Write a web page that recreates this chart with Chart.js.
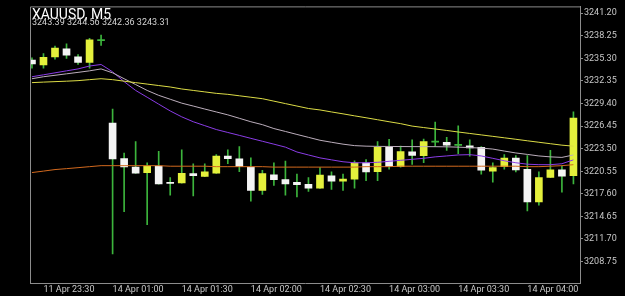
<!DOCTYPE html>
<html>
<head>
<meta charset="utf-8">
<script src="https://cdn.jsdelivr.net/npm/chart.js@4/dist/chart.umd.min.js"></script>
<style>
  html, body { margin: 0; padding: 0; background: #000; }
  #wrap { width: 625px; height: 296px; }
</style>
</head>
<body>
<div id="wrap"><canvas id="xauChart" width="625" height="296"></canvas></div>
<script>
// XAUUSD M5 candles
const times = [
  '11 Apr 23:25', '11 Apr 23:30', '11 Apr 23:35', '11 Apr 23:40', '11 Apr 23:45', '11 Apr 23:50', '11 Apr 23:55',
  '14 Apr 01:00', '14 Apr 01:05', '14 Apr 01:10', '14 Apr 01:15', '14 Apr 01:20', '14 Apr 01:25',
  '14 Apr 01:30', '14 Apr 01:35', '14 Apr 01:40', '14 Apr 01:45', '14 Apr 01:50', '14 Apr 01:55',
  '14 Apr 02:00', '14 Apr 02:05', '14 Apr 02:10', '14 Apr 02:15', '14 Apr 02:20', '14 Apr 02:25',
  '14 Apr 02:30', '14 Apr 02:35', '14 Apr 02:40', '14 Apr 02:45', '14 Apr 02:50', '14 Apr 02:55',
  '14 Apr 03:00', '14 Apr 03:05', '14 Apr 03:10', '14 Apr 03:15', '14 Apr 03:20', '14 Apr 03:25',
  '14 Apr 03:30', '14 Apr 03:35', '14 Apr 03:40', '14 Apr 03:45', '14 Apr 03:50', '14 Apr 03:55',
  '14 Apr 04:00', '14 Apr 04:05', '14 Apr 04:10', '14 Apr 04:15', '14 Apr 04:20'
];

const open = [
  3235.07, 3234.43, 3235.49, 3236.56, 3235.49, 3234.78, 3237.62,
  3226.86, 3222.21, 3221.11, 3220.38, 3221.24, 3219.11,
  3219.02, 3220.26, 3219.87, 3220.29, 3222.52, 3222.17,
  3221.11, 3218.05, 3220.09, 3219.45, 3219.11, 3218.85,
  3218.34, 3219.96, 3219.27, 3219.53, 3221.66, 3220.51,
  3223.70, 3221.15, 3223.10, 3222.59, 3224.36, 3224.34,
  3223.94, 3223.87, 3223.67, 3220.55, 3221.15, 3222.26,
  3220.81, 3216.55, 3219.74, 3220.73, 3219.96
];
const high = [
  3235.36, 3235.93, 3236.90, 3237.20, 3235.80, 3237.92, 3238.35,
  3228.68, 3222.94, 3224.43, 3221.66, 3223.15, 3219.74,
  3223.36, 3221.53, 3221.53, 3222.72, 3223.36, 3223.79,
  3222.30, 3220.68, 3221.66, 3221.88, 3220.17, 3219.74,
  3221.02, 3220.47, 3220.17, 3221.92, 3222.08, 3224.43,
  3224.73, 3223.83, 3224.64, 3224.76, 3226.99, 3224.98,
  3226.48, 3224.64, 3223.79, 3221.66, 3222.72, 3222.59,
  3222.59, 3220.47, 3223.28, 3221.24, 3228.30
];
const low = [
  3234.01, 3234.01, 3235.20, 3235.29, 3234.52, 3234.01, 3236.99,
  3209.75, 3215.28, 3220.26, 3213.58, 3218.85, 3217.41,
  3218.98, 3217.32, 3219.85, 3220.27, 3221.53, 3220.51,
  3216.64, 3217.54, 3218.69, 3217.41, 3217.19, 3217.92,
  3218.30, 3218.17, 3218.05, 3218.34, 3219.32, 3219.32,
  3220.81, 3221.10, 3221.44, 3221.66, 3223.79, 3223.28,
  3222.85, 3222.52, 3220.17, 3219.11, 3220.81, 3220.47,
  3215.36, 3216.13, 3219.70, 3217.83, 3218.89
];
const close = [
  3234.56, 3235.45, 3236.64, 3235.71, 3234.78, 3237.71, 3237.62,
  3222.17, 3221.11, 3220.29, 3221.24, 3218.89, 3218.95,
  3220.29, 3219.96, 3220.47, 3222.52, 3222.21, 3221.15,
  3218.05, 3220.26, 3219.45, 3218.89, 3218.81, 3218.34,
  3220.04, 3219.27, 3219.53, 3221.66, 3220.47, 3223.67,
  3221.15, 3223.13, 3222.62, 3224.43, 3224.36, 3223.96,
  3223.94, 3223.61, 3220.68, 3221.02, 3222.26, 3220.73,
  3216.55, 3219.74, 3220.73, 3219.91, 3227.50
];

// moving averages
const maPurple = [
  3232.90, 3233.15, 3233.41, 3233.67, 3233.92, 3234.30, 3234.50,
  3233.54, 3232.26, 3231.11, 3230.22, 3229.32, 3228.43,
  3227.66, 3227.02, 3226.51, 3226.00, 3225.62, 3225.24,
  3224.85, 3224.47, 3224.09, 3223.70, 3223.07, 3222.68,
  3222.30, 3222.04, 3221.79, 3221.66, 3221.66, 3221.72,
  3221.85, 3221.98, 3222.11, 3222.24, 3222.43, 3222.55,
  3222.68, 3222.72, 3222.55, 3222.24, 3221.92, 3221.66,
  3221.47, 3221.41, 3221.41, 3221.53, 3222.04
];
const maGray = [
  3232.64, 3232.90, 3233.09, 3233.28, 3233.47, 3233.67, 3233.92,
  3233.41, 3232.64, 3231.88, 3231.11, 3230.47, 3229.96,
  3229.45, 3229.07, 3228.68, 3228.30, 3227.92, 3227.47,
  3227.02, 3226.64, 3226.13, 3225.75, 3225.36, 3224.98,
  3224.60, 3224.34, 3224.09, 3223.90, 3223.83, 3223.80,
  3223.79, 3223.78, 3223.77, 3223.77, 3223.76, 3223.74,
  3223.70, 3223.64, 3223.58, 3223.45, 3223.19, 3222.94,
  3222.75, 3222.55, 3222.43, 3222.36, 3222.68
];
const maYellow = [
  3232.13, 3232.20, 3232.26, 3232.32, 3232.39, 3232.52, 3232.64,
  3232.52, 3232.32, 3232.13, 3231.94, 3231.75, 3231.56,
  3231.30, 3231.11, 3230.92, 3230.73, 3230.60, 3230.41,
  3230.22, 3230.03, 3229.71, 3229.39, 3229.07, 3228.75,
  3228.56, 3228.30, 3228.05, 3227.79, 3227.54, 3227.28,
  3227.02, 3226.77, 3226.45, 3226.26, 3226.07, 3225.88,
  3225.68, 3225.49, 3225.30, 3225.11, 3224.92, 3224.73,
  3224.53, 3224.34, 3224.15, 3223.96, 3223.83
];
const maOrange = [
  3220.38, 3220.57, 3220.77, 3220.89, 3221.02, 3221.15, 3221.28,
  3221.28, 3221.28, 3221.28, 3221.28, 3221.28, 3221.21,
  3221.21, 3221.21, 3221.21, 3221.15, 3221.15, 3221.15,
  3221.15, 3221.15, 3221.09, 3221.09, 3221.09, 3221.09,
  3221.09, 3221.09, 3221.09, 3221.09, 3221.15, 3221.15,
  3221.15, 3221.21, 3221.21, 3221.21, 3221.21, 3221.21,
  3221.21, 3221.21, 3221.21, 3221.21, 3221.21, 3221.21,
  3221.15, 3221.15, 3221.21, 3221.28, 3221.41
];

const priceTicks = [3208.75, 3211.70, 3214.65, 3217.60, 3220.55, 3223.50, 3226.45, 3229.40, 3232.35, 3235.30, 3238.25, 3241.20];

const title = 'XAUUSD, M5';
const subTitle = '3243.39 3244.56 3242.36 3243.31';

const bullColor = '#e4f03c';
const bearColor = '#f4f4f4';
const wickColor = '#3cb43c';
const frameColor = '#8c8c8c';

const bodyColors = open.map((o, i) => {
  if (o === close[i]) return wickColor;
  return close[i] > o ? bullColor : bearColor;
});

const wicks = times.map((t, i) => ({ x: i, y: [low[i], high[i]] }));
const bodies = times.map((t, i) => ({ x: i, y: [open[i], close[i]] }));
const toLine = arr => arr.map((v, i) => ({ x: i, y: v }));

const maLine = (data, color) => ({
  type: 'line',
  data: toLine(data),
  borderColor: color,
  borderWidth: 1,
  pointRadius: 0,
  tension: 0,
  order: 0
});

// frame + header text
const framePlugin = {
  id: 'frame',
  afterDraw(chart) {
    const { ctx, chartArea: a } = chart;
    ctx.save();
    ctx.strokeStyle = frameColor;
    ctx.lineWidth = 1;
    ctx.beginPath();
    ctx.moveTo(a.left + 0.5, a.bottom);
    ctx.lineTo(a.left + 0.5, a.top + 0.5);
    ctx.lineTo(a.right, a.top + 0.5);
    ctx.stroke();
    ctx.fillStyle = '#ffffff';
    ctx.font = '14px Roboto';
    ctx.textBaseline = 'alphabetic';
    ctx.fillText(title, a.left + 2, 18.5);
    ctx.fillStyle = '#d4d4d4';
    ctx.font = '9px Roboto';
    ctx.fillText(subTitle, a.left + 2, 25);
    ctx.restore();
  }
};

const ctx = document.getElementById('xauChart').getContext('2d');

const chart = new Chart(ctx, {
  type: 'bar',
  data: {
    datasets: [
      maLine(maOrange, '#d2691e'),
      maLine(maYellow, '#dcdc46'),
      maLine(maGray, '#bcaebc'),
      maLine(maPurple, '#8a3ce6'),
      {
        data: wicks,
        backgroundColor: wickColor,
        barThickness: 1,
        grouped: false,
        order: 2
      },
      {
        data: bodies,
        backgroundColor: bodyColors,
        barThickness: 7,
        minBarLength: 1,
        grouped: false,
        order: 1
      }
    ]
  },
  options: {
    responsive: false,
    animation: false,
    layout: { padding: { left: 30, top: 0, right: 0, bottom: 0 } },
    plugins: {
      legend: { display: false },
      tooltip: { enabled: false }
    },
    scales: {
      x: {
        type: 'linear',
        min: -0.17,
        max: 47.57,
        offset: false,
        afterBuildTicks: scale => {
          scale.ticks = times
            .map((t, i) => ({ value: i }))
            .filter(tk => /:(00|30)$/.test(times[tk.value]));
        },
        afterFit: scale => { scale.height = 13; },
        ticks: {
          color: '#c8c8c8',
          font: { family: 'Roboto', size: 9 },
          padding: 1,
          align: 'start',
          maxRotation: 0,
          autoSkip: false,
          callback: v => times[v]
        },
        grid: { drawOnChartArea: false, drawTicks: false },
        border: { display: true, color: frameColor }
      },
      y: {
        position: 'right',
        min: 3205.95,
        max: 3242.09,
        afterBuildTicks: scale => {
          scale.ticks = priceTicks.map(v => ({ value: v }));
        },
        afterFit: scale => { scale.width = 45; },
        ticks: {
          color: '#c8c8c8',
          font: { family: 'Roboto', size: 9 },
          padding: 1,
          callback: v => v.toFixed(2)
        },
        grid: { drawOnChartArea: false, drawTicks: true, tickLength: 3, color: frameColor },
        border: { display: true, color: frameColor }
      }
    }
  },
  plugins: [framePlugin]
});
</script>
</body>
</html>
